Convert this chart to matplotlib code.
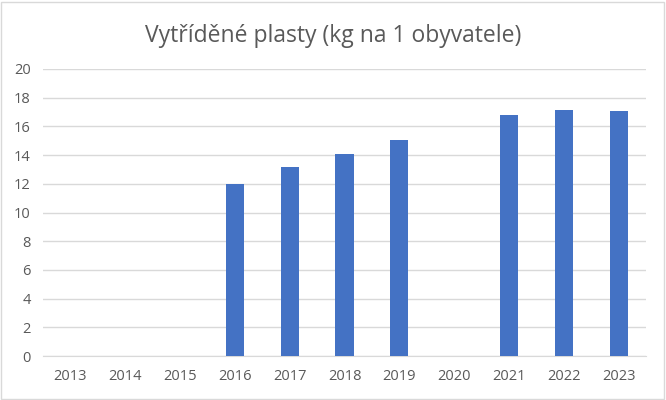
import matplotlib
matplotlib.use("Agg")
import matplotlib.pyplot as plt
import numpy as np

years = ["2013", "2014", "2015", "2016", "2017", "2018", "2019", "2020", "2021", "2022", "2023"]
values = [0, 0, 0, 12.0, 13.15, 14.1, 15.07, 0, 16.8, 17.15, 17.1]

plt.rcParams['font.family'] = ['Open Sans', 'DejaVu Sans']

fig = plt.figure(figsize=(6.66, 4.0), dpi=100)
ax = fig.add_axes([0.0646, 0.11, 0.9054, 0.7175])

x = np.arange(len(years))
ax.bar(x, values, width=0.33, color='#4472C4', zorder=3)

ax.set_xlim(-0.5, len(years) - 0.5)
ax.set_ylim(0, 20)
ax.set_yticks(range(0, 21, 2))
ax.set_xticks(x)
ax.set_xticklabels(years)
ax.grid(axis='y', color='#D9D9D9', linewidth=1, zorder=0)
for s in ['top', 'right', 'left']:
    ax.spines[s].set_visible(False)
ax.spines['bottom'].set_color('#D9D9D9')
ax.tick_params(axis='both', length=0, colors='#595959', labelsize=10.5)
ax.tick_params(axis='x', pad=9)
ax.tick_params(axis='y', pad=9)

fig.text(0.5, 0.91, "Vytříděné plasty (kg na 1 obyvatele)", ha='center', va='center',
         fontsize=16.5, color='#595959')

# light border around the chart
fig.patches.append(plt.Rectangle((0.002, 0.003), 0.995, 0.993, transform=fig.transFigure,
                                 fill=False, edgecolor='#D9D9D9', linewidth=1))

fig.savefig("out.png", dpi=100)
